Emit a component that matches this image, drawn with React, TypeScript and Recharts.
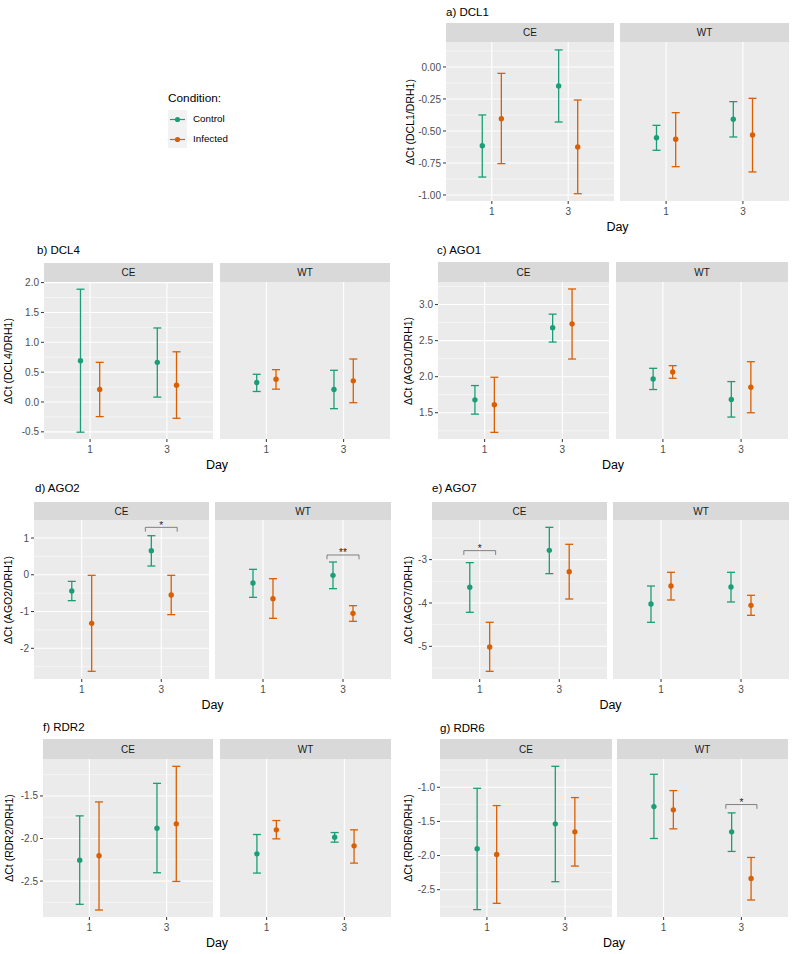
import React from 'react';
import { ScatterChart, Scatter, XAxis, YAxis, CartesianGrid, ErrorBar, ReferenceLine } from 'recharts';

const GREEN = '#1B9E77';
const ORANGE = '#D95F02';
const FONT = '"Liberation Sans", Arial, Helvetica, sans-serif';

const days = [1, 3];
const sites = ['CE', 'WT'];
const conditions = ['Control', 'Infected'];

// value order: CE d1 Control, CE d1 Infected, CE d3 Control, CE d3 Infected,
//              WT d1 Control, WT d1 Infected, WT d3 Control, WT d3 Infected
const dcl1Mean = [-0.615, -0.404, -0.148, -0.625, -0.552, -0.565, -0.409, -0.531];
const dcl1Low = [-0.86, -0.755, -0.43, -0.99, -0.651, -0.779, -0.547, -0.82];
const dcl1High = [-0.375, -0.05, 0.133, -0.258, -0.456, -0.357, -0.271, -0.245];

const dcl4Mean = [0.692, 0.21, 0.664, 0.282, 0.326, 0.381, 0.21, 0.354];
const dcl4Low = [-0.506, -0.245, 0.082, -0.273, 0.176, 0.215, -0.112, -0.012];
const dcl4High = [1.889, 0.664, 1.24, 0.841, 0.464, 0.542, 0.531, 0.72];

const ago1Mean = [1.679, 1.61, 2.678, 2.733, 1.969, 2.066, 1.684, 1.854];
const ago1Low = [1.481, 1.228, 2.48, 2.245, 1.822, 1.978, 1.44, 1.5];
const ago1High = [1.877, 1.992, 2.867, 3.216, 2.116, 2.153, 1.932, 2.208];

const ago2Mean = [-0.441, -1.321, 0.655, -0.55, -0.224, -0.65, -0.015, -1.049];
const ago2Low = [-0.704, -2.626, 0.238, -1.085, -0.614, -1.185, -0.378, -1.267];
const ago2High = [-0.179, -0.015, 1.063, -0.015, 0.148, -0.106, 0.347, -0.84];

const ago7Mean = [-3.638, -5.015, -2.785, -3.277, -4.023, -3.608, -3.631, -4.054];
const ago7Low = [-4.215, -5.577, -3.323, -3.908, -4.446, -3.931, -3.977, -4.285];
const ago7High = [-3.069, -4.446, -2.254, -2.646, -3.608, -3.292, -3.292, -3.823];

const rdr2Mean = [-2.254, -2.203, -1.879, -1.828, -2.18, -1.898, -1.984, -2.086];
const rdr2Low = [-2.773, -2.84, -2.402, -2.504, -2.406, -2.004, -2.043, -2.289];
const rdr2High = [-1.734, -1.57, -1.352, -1.152, -1.953, -1.789, -1.93, -1.898];

const rdr6Mean = [-1.901, -1.984, -1.536, -1.653, -1.283, -1.331, -1.653, -2.335];
const rdr6Low = [-2.792, -2.7, -2.383, -2.154, -1.75, -1.609, -1.94, -2.651];
const rdr6High = [-1.015, -1.268, -0.693, -1.151, -0.81, -1.049, -1.375, -2.028];

const dcl1Ticks = [-1, -0.75, -0.5, -0.25, 0];
const dcl4Ticks = [-0.5, 0, 0.5, 1, 1.5, 2];
const ago1Ticks = [1.5, 2, 2.5, 3];
const ago2Ticks = [-2, -1, 0, 1];
const ago7Ticks = [-5, -4, -3];
const rdr2Ticks = [-2.5, -2, -1.5];
const rdr6Ticks = [-2.5, -2, -1.5, -1];

// significance brackets (site, day, bracket height, label)
const ago2Sig = [
  { site: 'CE', day: 3, y: 1.29, label: '*' },
  { site: 'WT', day: 3, y: 0.538, label: '**' },
];
const ago7Sig = [{ site: 'CE', day: 1, y: -2.792, label: '*' }];
const rdr6Sig = [{ site: 'WT', day: 3, y: -1.253, label: '*' }];

const DODGE = 0.25;
const X_DOMAIN = [-0.2, 4.2];
const Y_AXIS_W = 40;
const X_AXIS_H = 22;
const TOP_PAD = 8;
const TICK_FONT = 10;

const panels = [
  { title: 'a) DCL1', ylab: 'ΔCt (DCL1/DRH1)', mean: dcl1Mean, low: dcl1Low, high: dcl1High, ticks: dcl1Ticks, dec: 2,
    domain: [-1.047, 0.195], sig: [], ce: [446, 614], wt: [620, 789], top: 23, strip: 42, bottom: 201, titleX: 446, titleY: 12, labX: 410 },
  { title: 'b) DCL4', ylab: 'ΔCt (DCL4/DRH1)', mean: dcl4Mean, low: dcl4Low, high: dcl4High, ticks: dcl4Ticks, dec: 1,
    domain: [-0.62, 2.01], sig: [], ce: [44, 213], wt: [220, 390], top: 263, strip: 282, bottom: 439, titleX: 37, titleY: 250, labX: 8 },
  { title: 'c) AGO1', ylab: 'ΔCt (AGO1/DRH1)', mean: ago1Mean, low: ago1Low, high: ago1High, ticks: ago1Ticks, dec: 1,
    domain: [1.136, 3.313], sig: [], ce: [438, 609], wt: [616, 788], top: 262, strip: 282, bottom: 439, titleX: 437, titleY: 250, labX: 408 },
  { title: 'd) AGO2', ylab: 'ΔCt (AGO2/DRH1)', mean: ago2Mean, low: ago2Low, high: ago2High, ticks: ago2Ticks, dec: 0,
    domain: [-2.835, 1.49], sig: ago2Sig, ce: [34, 209], wt: [215, 391], top: 502, strip: 520, bottom: 679, titleX: 35, titleY: 488, labX: 8 },
  { title: 'e) AGO7', ylab: 'ΔCt (AGO7/DRH1)', mean: ago7Mean, low: ago7Low, high: ago7High, ticks: ago7Ticks, dec: 0,
    domain: [-5.754, -2.085], sig: ago7Sig, ce: [432, 607], wt: [613, 789], top: 502, strip: 520, bottom: 679, titleX: 432, titleY: 488, labX: 408 },
  { title: 'f) RDR2', ylab: 'ΔCt (RDR2/DRH1)', mean: rdr2Mean, low: rdr2Low, high: rdr2High, ticks: rdr2Ticks, dec: 1,
    domain: [-2.922, -1.066], sig: [], ce: [43, 213], wt: [220, 391], top: 739, strip: 759, bottom: 917, titleX: 43, titleY: 727, labX: 9 },
  { title: 'g) RDR6', ylab: 'ΔCt (RDR6/DRH1)', mean: rdr6Mean, low: rdr6Low, high: rdr6High, ticks: rdr6Ticks, dec: 1,
    domain: [-2.9, -0.586], sig: rdr6Sig, ce: [440, 612], wt: [617, 788], top: 739, strip: 759, bottom: 917, titleX: 440, titleY: 728, labX: 408 },
];

const minorBreaks = (ticks: number[], domain: number[]) => {
  const step = ticks[1] - ticks[0];
  const out: number[] = [];
  for (let i = -1; i < ticks.length; i++) {
    const v = ticks[0] + step * (i + 0.5);
    if (v > domain[0] && v < domain[1]) out.push(v);
  }
  return out;
};

const dot = (color: string) => (props: any) => <circle cx={props.cx} cy={props.cy} r={2.7} fill={color} />;

function Facet({ p, site, showY }: any) {
  const rows = p.mean.map((m: number, i: number) => ({
    site: sites[Math.floor(i / 4)],
    day: days[Math.floor(i / 2) % 2],
    cond: conditions[i % 2],
    y: m,
    err: [m - p.low[i], p.high[i] - m],
  }))
    .filter((r: any) => r.site === site)
    .map((r: any) => ({ ...r, x: r.day + (r.cond === 'Control' ? -DODGE : DODGE) }));

  const control = rows.filter((r: any) => r.cond === 'Control');
  const infected = rows.filter((r: any) => r.cond === 'Infected');
  const panelW = site === 'CE' ? p.ce[1] - p.ce[0] : p.wt[1] - p.wt[0];
  const width = panelW + (showY ? Y_AXIS_W : 0);
  const height = p.bottom - p.strip + X_AXIS_H + TOP_PAD;
  const tip = (p.domain[1] - p.domain[0]) * 0.027;
  const sigs = p.sig.filter((s: any) => s.site === site);

  return (
    <ScatterChart width={width} height={height} margin={{ top: TOP_PAD, right: 0, bottom: 0, left: 0 }}>
      <CartesianGrid fill="#EBEBEB" fillOpacity={1} stroke="#FFFFFF" strokeWidth={1.1}
        horizontalValues={p.ticks} verticalValues={days} />
      <CartesianGrid stroke="#FFFFFF" strokeWidth={0.5} vertical={false}
        horizontalValues={minorBreaks(p.ticks, p.domain)} />
      <XAxis type="number" dataKey="x" domain={X_DOMAIN} ticks={days} allowDataOverflow
        height={X_AXIS_H} axisLine={false} tickSize={3} tickMargin={4}
        tickLine={{ stroke: '#333333' }}
        tick={{ fill: '#4D4D4D', fontSize: TICK_FONT, fontFamily: FONT }} />
      {showY ? (
        <YAxis type="number" dataKey="y" domain={p.domain} ticks={p.ticks} allowDataOverflow
          width={Y_AXIS_W} axisLine={false} tickSize={3} tickMargin={2}
          tickLine={{ stroke: '#333333' }}
          tickFormatter={(v: number) => v.toFixed(p.dec)}
          tick={{ fill: '#4D4D4D', fontSize: TICK_FONT, fontFamily: FONT }} />
      ) : (
        <YAxis type="number" dataKey="y" domain={p.domain} ticks={p.ticks} allowDataOverflow
          width={0} axisLine={false} tickLine={false} tick={false} />
      )}
      <Scatter data={control} fill={GREEN} shape={dot(GREEN)} isAnimationActive={false}>
        <ErrorBar dataKey="err" direction="y" width={4} stroke={GREEN} strokeWidth={1.3} isAnimationActive={false} />
      </Scatter>
      <Scatter data={infected} fill={ORANGE} shape={dot(ORANGE)} isAnimationActive={false}>
        <ErrorBar dataKey="err" direction="y" width={4} stroke={ORANGE} strokeWidth={1.3} isAnimationActive={false} />
      </Scatter>
      {sigs.map((s: any, i: number) => (
        <ReferenceLine key={'h' + i} segment={[{ x: s.day - 0.4, y: s.y }, { x: s.day + 0.4, y: s.y }]}
          stroke="#666666" strokeWidth={0.8}
          label={{ value: s.label, position: 'top', offset: -1.5, fill: '#1A1A1A', fontSize: 10, fontFamily: FONT }} />
      ))}
      {sigs.map((s: any, i: number) => (
        <ReferenceLine key={'l' + i} segment={[{ x: s.day - 0.4, y: s.y }, { x: s.day - 0.4, y: s.y - tip }]}
          stroke="#666666" strokeWidth={0.8} />
      ))}
      {sigs.map((s: any, i: number) => (
        <ReferenceLine key={'r' + i} segment={[{ x: s.day + 0.4, y: s.y }, { x: s.day + 0.4, y: s.y - tip }]}
          stroke="#666666" strokeWidth={0.8} />
      ))}
    </ScatterChart>
  );
}

const stripStyle = (left: number, right: number, top: number, bottom: number): React.CSSProperties => ({
  position: 'absolute', left, top, width: right - left, height: bottom - top,
  background: '#D9D9D9', color: '#1A1A1A', fontSize: 10,
  display: 'flex', alignItems: 'center', justifyContent: 'center',
});

function Panel({ p }: any) {
  const mid = (p.strip + p.bottom) / 2;
  return (
    <>
      <div style={{ position: 'absolute', left: p.titleX, top: p.titleY - 7, fontSize: 11.5, lineHeight: '14px', color: '#000', whiteSpace: 'nowrap' }}>
        {p.title}
      </div>
      <div style={{ position: 'absolute', left: p.ce[0] - Y_AXIS_W, top: p.strip - TOP_PAD }}>
        <Facet p={p} site="CE" showY />
      </div>
      <div style={{ position: 'absolute', left: p.wt[0], top: p.strip - TOP_PAD }}>
        <Facet p={p} site="WT" showY={false} />
      </div>
      <div style={stripStyle(p.ce[0], p.ce[1], p.top, p.strip)}>CE</div>
      <div style={stripStyle(p.wt[0], p.wt[1], p.top, p.strip)}>WT</div>
      <div style={{ position: 'absolute', left: p.labX, top: mid, transform: 'translate(-50%, -50%) rotate(-90deg)', fontSize: 10.5, color: '#000', whiteSpace: 'nowrap', lineHeight: '12px' }}>
        {p.ylab}
      </div>
      <div style={{ position: 'absolute', left: (p.ce[0] + p.wt[1]) / 2, top: p.bottom + 26, transform: 'translate(-50%, -50%)', fontSize: 12.5, color: '#000', lineHeight: '14px' }}>
        Day
      </div>
    </>
  );
}

function ConditionLegend() {
  const items = [{ name: conditions[0], color: GREEN }, { name: conditions[1], color: ORANGE }];
  return (
    <>
      <div style={{ position: 'absolute', left: 168, top: 90, fontSize: 11.8, lineHeight: '16px', color: '#000' }}>Condition:</div>
      <div style={{ position: 'absolute', left: 168, top: 110, width: 19, height: 38, background: '#F2F2F2' }} />
      {items.map((it, i) => (
        <React.Fragment key={it.name}>
          <svg style={{ position: 'absolute', left: 168, top: 110 + i * 20 }} width={19} height={19}>
            <line x1={2} x2={17} y1={9.5} y2={9.5} stroke={it.color} strokeWidth={1.2} />
            <circle cx={9.5} cy={9.5} r={2.6} fill={it.color} />
          </svg>
          <div style={{ position: 'absolute', left: 193, top: 119 + i * 20 - 7, fontSize: 9.8, lineHeight: '14px', color: '#000' }}>{it.name}</div>
        </React.Fragment>
      ))}
    </>
  );
}

export default function App() {
  return (
    <div style={{ position: 'absolute', left: 0, top: 0, width: 794, height: 954, background: '#FFFFFF', fontFamily: FONT, overflow: 'hidden' }}>
      <ConditionLegend />
      {panels.map((p) => <Panel key={p.title} p={p} />)}
    </div>
  );
}
